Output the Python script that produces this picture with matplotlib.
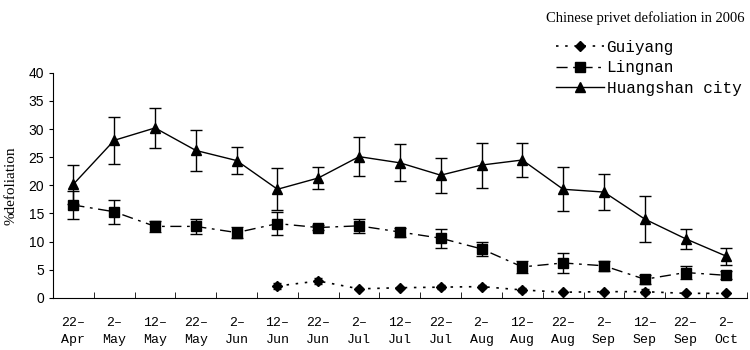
import numpy as np
import matplotlib
matplotlib.use("Agg")
import matplotlib.pyplot as plt
from matplotlib.ticker import FixedLocator
from matplotlib.lines import Line2D

dates = ['22–\nApr', '2–\nMay', '12–\nMay', '22–\nMay', '2–\nJun', '12–\nJun',
         '22–\nJun', '2–\nJul', '12–\nJul', '22–\nJul', '2–\nAug', '12–\nAug',
         '22–\nAug', '2–\nSep', '12–\nSep', '22–\nSep', '2–\nOct']

huangshan = [20.2, 28.0, 30.2, 26.2, 24.4, 19.3, 21.3, 25.1, 24.0, 21.8, 23.6,
             24.5, 19.3, 18.8, 14.0, 10.5, 7.4]
huangshan_err = [3.5, 4.2, 3.6, 3.6, 2.4, 3.7, 2.0, 3.5, 3.3, 3.1, 4.0,
                 3.1, 3.9, 3.2, 4.1, 1.8, 1.5]

lingnan = [16.5, 15.3, 12.7, 12.7, 11.6, 13.2, 12.5, 12.8, 11.7, 10.6, 8.7,
           5.5, 6.2, 5.7, 3.3, 4.5, 4.0]
lingnan_err = [2.5, 2.1, 1.0, 1.3, 1.0, 2.1, 0.5, 1.3, 0.8, 1.7, 1.2,
               1.1, 1.8, 0.9, 0.8, 1.2, 0.7]

guiyang = [np.nan] * 5 + [2.1, 3.0, 1.6, 1.8, 1.9, 2.0, 1.4, 1.0, 1.1, 1.1, 0.8, 0.8]
guiyang_err = [0] * 5 + [0.5, 0.6, 0.2, 0.2, 0.3, 0.2, 0.3, 0.2, 0.2, 0.5, 0.2, 0.2]

x = np.arange(len(dates))

styles = [
    ('Guiyang', guiyang, guiyang_err, 'D', 5, (0, (1.5, 4)), 1.2, 3),
    ('Lingnan', lingnan, lingnan_err, 's', 7, (0, (8, 4, 2, 4)), 1, 4),
    ('Huangshan city', huangshan, huangshan_err, '^', 7.5, '-', 1, 4),
]

fig = plt.figure(figsize=(7.5, 3.5), dpi=100)
ax = fig.add_axes([0.0707, 0.149, 0.925, 0.643])

handles = []
for name, vals, err, mk, ms, ls, lw, cap in styles:
    ax.errorbar(x, vals, yerr=err, color='black', marker=mk, ms=ms,
                linestyle=ls, lw=lw, capsize=cap, elinewidth=1)
    handles.append(Line2D([], [], color='black', marker=mk, ms=ms,
                          linestyle=ls, lw=lw, label=name))

ax.set_xlim(-0.5, len(dates) - 0.5)
ax.set_ylim(0, 40)
ax.set_yticks(range(0, 41, 5))
ax.set_xticks(x)
ax.set_xticklabels(dates, family='Liberation Mono', fontsize=9.5, linespacing=1.5)
ax.xaxis.set_minor_locator(FixedLocator(np.arange(-0.5, len(dates), 1.0)))
ax.tick_params(axis='x', which='major', length=0, pad=14)
ax.tick_params(axis='x', which='minor', direction='in', length=4)
ax.tick_params(axis='y', direction='out', length=3, labelsize=10)
for lab in ax.get_yticklabels():
    lab.set_family('Liberation Sans')

ax.spines['top'].set_visible(False)
ax.spines['right'].set_visible(False)

ax.set_ylabel('%defoliation', family='Liberation Serif', fontsize=11, labelpad=8)

fig.text(0.993, 0.948, 'Chinese privet defoliation in 2006',
         family='Liberation Serif', fontsize=10.5, ha='right', va='center')

fig.legend(handles=handles, loc='upper right', bbox_to_anchor=(0.997, 0.905),
           frameon=False, prop={'family': 'Liberation Mono', 'size': 11.5},
           handlelength=3.0, handletextpad=0.15, labelspacing=0.35,
           borderaxespad=0)

fig.savefig('out.png', dpi=100)
